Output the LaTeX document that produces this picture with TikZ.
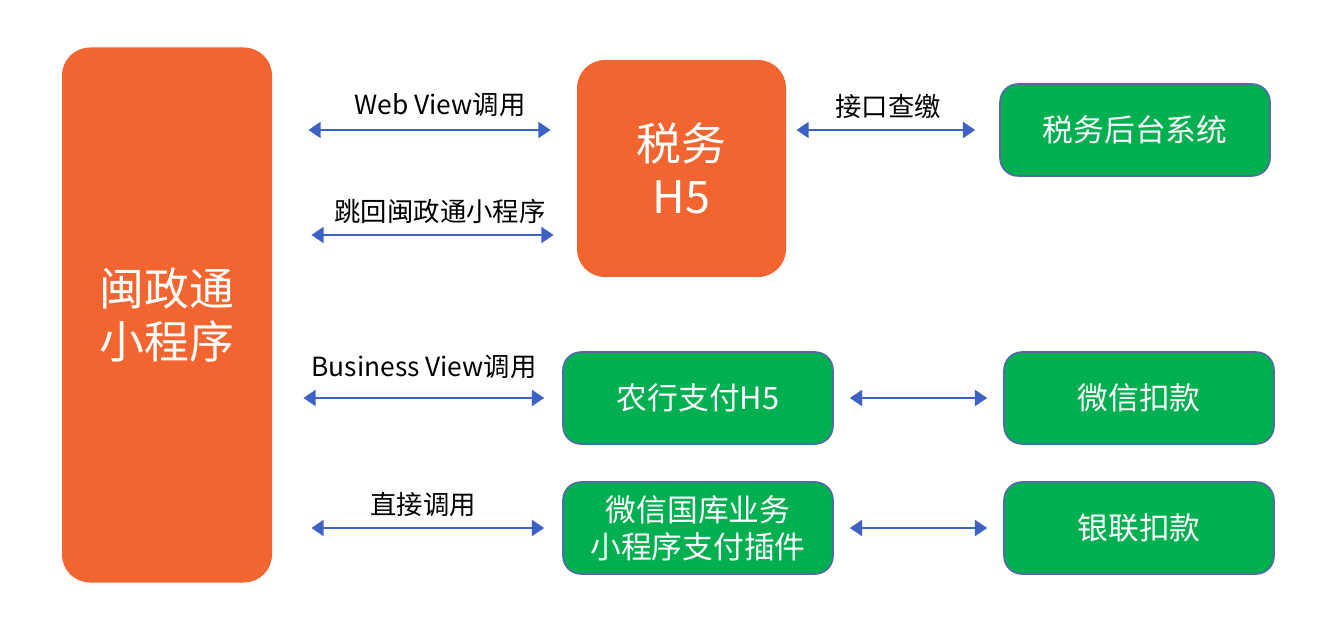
\documentclass[tikz,border=0pt]{standalone}
\usepackage{fontspec}
\setmainfont{Noto Sans CJK SC}
\usepackage{tikz}
\usetikzlibrary{arrows.meta}
\definecolor{orgc}{RGB}{242,101,49}
\definecolor{grnc}{RGB}{0,176,80}
\definecolor{bordc}{RGB}{84,104,170}
\definecolor{arrc}{RGB}{61,98,196}

\begin{document}
\begin{tikzpicture}[scale=1,
    orangebox/.style={fill=orgc, rounded corners=0.56cm, text=white, inner sep=0pt, align=center, font=\fontsize{25.5}{30}\selectfont},
    greenbox/.style={fill=grnc, draw=bordc, line width=0.9pt, rounded corners=0.36cm, text=white, inner sep=0pt, minimum width=5.4cm, minimum height=1.84cm, align=center, font=\fontsize{17.5}{21}\selectfont},
    biarrow/.style={{Triangle[length=7pt,width=9pt]}-{Triangle[length=7pt,width=9pt]}, draw=arrc, line width=1.5pt},
    lbl/.style={font=\fontsize{15}{18}\selectfont}]
      \useasboundingbox (0,0) rectangle (26.8,12.64);
      \node (app) at (3.34,6.34) [orangebox, minimum width=4.2cm, minimum height=10.7cm] {闽政通\\小程序};
      \node (h5) at (13.63,9.27) [orangebox, minimum width=4.18cm, minimum height=4.34cm] {税务\\H5};
      \node (bk) at (22.7,10.04) [greenbox] {税务后台系统};
      \node (abc) at (13.96,4.68) [greenbox] {农行支付H5};
      \node (wxk) at (22.78,4.68) [greenbox] {微信扣款};
      \node (wxg) at (13.96,2.08) [greenbox] {微信国库业务\\小程序支付插件};
      \node (ylk) at (22.78,2.08) [greenbox] {银联扣款};
      % calls from the mini program
      \draw[biarrow, shorten <=0.72cm, shorten >=0.52cm] (app.east |- 0,10.04) to (h5.west |- 0,10.04);
      \draw[biarrow, shorten <=0.78cm, shorten >=0.46cm] (app.east |- 0,7.94) to (h5.west |- 0,7.94);
      \draw[biarrow, shorten <=0.62cm, shorten >=0.36cm] (app.east |- abc.west) to (abc.west);
      \draw[biarrow, shorten <=0.78cm, shorten >=0.36cm] (app.east |- wxg.west) to (wxg.west);
      \draw[biarrow, shorten <=0.2cm, shorten >=0.48cm] (h5.east |- bk.west) to (bk.west);
      \foreach \a/\b in {abc/wxk, wxg/ylk}
               {
                 \draw[biarrow, shorten <=0.32cm, shorten >=0.32cm] (\a.east) to (\b.west);
               }
      \node (lweb) at (8.8,10.54) [lbl] {Web View调用};
      \node (lback) at (8.8,8.42) [lbl] {跳回闽政通小程序};
      \node (lquery) at (17.76,10.52) [lbl] {接口查缴};
      \node (lbiz) at (8.48,5.30) [lbl] {Business View调用};
      \node (ldirect) at (8.46,2.54) [lbl] {直接调用};
\end{tikzpicture}
\end{document}
